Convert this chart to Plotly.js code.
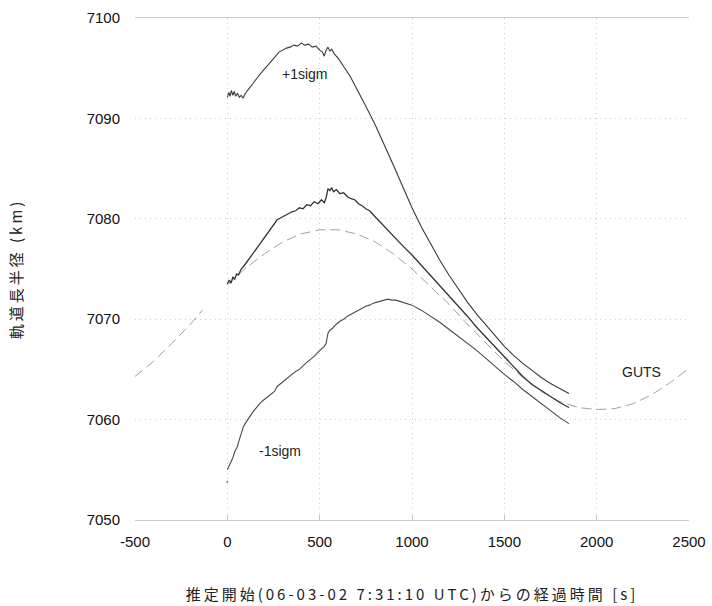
<!DOCTYPE html>
<html>
<head>
<meta charset="utf-8">
<script src="https://cdn.plot.ly/plotly-3.0.1.min.js"></script>
<style>html,body{margin:0;padding:0;background:#fff;}#chart{width:712px;height:606px;}</style>
</head>
<body>
<div id="chart"></div>
<script>
// ---- data ----
const xTicks = [-500, 0, 500, 1000, 1500, 2000, 2500];
const yTicks = [7050, 7060, 7070, 7080, 7090, 7100];

// GUTS reference orbit
const gutsT = [-500, -400, -300, -200, -135, -120, 0, 100, 200, 300, 400, 500, 600, 700, 800, 900, 1000, 1100, 1200, 1300, 1400, 1500, 1600, 1700, 1800, 1900, 2000, 2100, 2200, 2300, 2400, 2500];
const gutsA = [7064.3, 7065.8, 7067.6, 7069.5, 7070.9, null, 7073.4, 7075.1, 7076.5, 7077.7, 7078.5, 7078.9, 7078.9, 7078.5, 7077.7, 7076.5, 7075.0, 7073.3, 7071.5, 7069.5, 7067.6, 7065.8, 7064.2, 7062.8, 7061.8, 7061.2, 7061.0, 7061.1, 7061.6, 7062.5, 7063.7, 7065.1];

// central estimate
const centerT = [0, 10, 20, 30, 40, 50, 60, 75, 90, 110, 130, 150, 170, 190, 210, 230, 250, 270, 290, 310, 330, 350, 370, 390, 410, 430, 450, 470, 490, 510, 525, 535, 545, 555, 565, 575, 590, 610, 630, 650, 670, 690, 710, 730, 750, 770, 790, 810, 830, 850, 900, 950, 1000, 1050, 1100, 1150, 1200, 1250, 1300, 1350, 1400, 1450, 1500, 1550, 1600, 1650, 1700, 1750, 1800, 1850];
const centerA = [7073.5, 7073.9, 7073.6, 7074.2, 7074.0, 7074.5, 7074.4, 7075.0, 7075.3, 7075.8, 7076.4, 7076.9, 7077.4, 7077.8, 7078.3, 7078.8, 7079.3, 7079.9, 7080.1, 7080.3, 7080.5, 7080.7, 7080.8, 7081.1, 7081.0, 7081.4, 7081.3, 7081.7, 7081.5, 7081.9, 7081.6, 7082.1, 7083.0, 7082.8, 7083.1, 7082.7, 7082.9, 7082.5, 7082.6, 7082.2, 7082.0, 7081.9, 7081.5, 7081.3, 7081.0, 7080.8, 7080.4, 7080.0, 7079.6, 7079.2, 7078.2, 7077.3, 7076.4, 7075.4, 7074.4, 7073.3, 7072.3, 7071.3, 7070.3, 7069.2, 7068.2, 7067.2, 7066.2, 7065.2, 7064.3, 7063.5, 7062.9, 7062.3, 7061.7, 7061.2];

// +1 sigma
const plusT = [0, 8, 15, 22, 30, 38, 45, 55, 65, 75, 85, 95, 110, 125, 140, 160, 180, 200, 220, 240, 260, 280, 300, 320, 340, 360, 380, 400, 420, 440, 460, 480, 500, 515, 525, 535, 545, 555, 565, 580, 600, 620, 640, 668, 700, 750, 800, 850, 900, 950, 1000, 1050, 1100, 1150, 1200, 1250, 1300, 1350, 1400, 1450, 1500, 1550, 1600, 1650, 1700, 1750, 1800, 1850];
const plusA = [7092.1, 7092.6, 7092.2, 7092.8, 7092.3, 7092.7, 7092.2, 7092.5, 7092.1, 7092.3, 7092.0, 7092.4, 7092.8, 7093.1, 7093.5, 7094.0, 7094.5, 7094.9, 7095.3, 7095.7, 7096.2, 7096.6, 7096.8, 7097.0, 7097.1, 7097.3, 7097.2, 7097.5, 7097.3, 7097.4, 7097.1, 7097.2, 7096.8, 7096.6, 7096.2, 7096.8, 7097.1, 7096.7, 7096.9, 7096.4, 7096.0, 7095.5, 7094.9, 7094.1, 7093.0, 7091.2, 7089.4, 7087.4, 7085.3, 7083.2, 7081.1, 7079.2, 7077.5, 7075.9, 7074.4, 7073.0, 7071.7, 7070.5, 7069.4, 7068.3, 7067.3, 7066.4, 7065.6, 7064.9, 7064.2, 7063.6, 7063.1, 7062.6];

// -1 sigma
const minusT = [0, 10, 20, 30, 40, 54, 65, 75, 87, 100, 112, 125, 140, 160, 180, 200, 220, 240, 255, 270, 290, 310, 330, 350, 370, 390, 410, 430, 450, 470, 490, 510, 525, 535, 545, 555, 570, 590, 610, 630, 650, 670, 690, 710, 730, 750, 770, 790, 810, 830, 850, 870, 890, 910, 930, 950, 975, 1000, 1050, 1100, 1150, 1200, 1250, 1300, 1350, 1400, 1450, 1500, 1550, 1600, 1650, 1700, 1750, 1800, 1850];
const minusA = [7055.0, 7055.4, 7055.9, 7056.2, 7056.8, 7057.3, 7058.0, 7058.6, 7059.3, 7059.7, 7060.1, 7060.4, 7060.8, 7061.3, 7061.7, 7062.0, 7062.3, 7062.6, 7062.8, 7063.3, 7063.6, 7063.9, 7064.2, 7064.5, 7064.8, 7065.0, 7065.4, 7065.7, 7066.0, 7066.3, 7066.7, 7067.0, 7067.3, 7067.6, 7068.6, 7068.9, 7069.1, 7069.5, 7069.8, 7070.0, 7070.3, 7070.5, 7070.7, 7070.9, 7071.1, 7071.3, 7071.4, 7071.6, 7071.7, 7071.8, 7071.9, 7072.0, 7071.9, 7071.9, 7071.8, 7071.7, 7071.6, 7071.4, 7070.9, 7070.3, 7069.7, 7069.0, 7068.3, 7067.6, 7066.9, 7066.1, 7065.3, 7064.5, 7063.8, 7063.0, 7062.3, 7061.6, 7060.9, 7060.2, 7059.6];

// stray first sample of -1 sigma
const strayT = [0];
const strayA = [7053.8];

const labels = ['+1sigm', '-1sigm', 'GUTS'];
const labelT = [422, 287, 2241];
const labelA = [7094.4, 7056.9, 7064.7];

const xTitle = '推定開始(06-03-02 7:31:10 UTC)からの経過時間 [s]';
const yTitle = '軌道長半径 (km)';

// ---- traces ----
const traces = [
  {x: gutsT, y: gutsA, mode: 'lines', connectgaps: false,
   line: {color: '#a0a0a0', width: 1, dash: '10px,5px'}, hoverinfo: 'skip'},
  {x: plusT, y: plusA, mode: 'lines', line: {color: '#3a3a3a', width: 1.1}},
  {x: centerT, y: centerA, mode: 'lines', line: {color: '#333333', width: 1.3}},
  {x: minusT, y: minusA, mode: 'lines', line: {color: '#4a4a4a', width: 1.1}},
  {x: strayT, y: strayA, mode: 'markers', marker: {color: '#777', size: 2}}
];

const annotations = labels.map((t, i) => ({
  x: labelT[i], y: labelA[i], xref: 'x', yref: 'y', text: t, showarrow: false,
  font: {family: 'Liberation Sans, Arial, sans-serif', size: 14, color: '#222'}
}));

const tickFont = {family: 'Liberation Sans, Arial, sans-serif', size: 15, color: '#111'};
const titleFont = {family: 'Noto Sans CJK JP, sans-serif', size: 15, color: '#222'};

const layout = {
  width: 712, height: 606,
  margin: {l: 135, r: 23, t: 18, b: 86},
  paper_bgcolor: '#fff', plot_bgcolor: '#fff',
  showlegend: false,
  xaxis: {
    range: [-500, 2500], tickmode: 'array', tickvals: xTicks,
    ticktext: xTicks.map(String),
    showgrid: true, gridcolor: '#cccccc', griddash: '1px,4px', gridwidth: 1,
    zeroline: false, showline: true, linecolor: '#cccccc', linewidth: 1, mirror: true,
    ticks: 'inside', ticklen: 5, tickcolor: '#c4c4c4',
    tickfont: tickFont, ticklabelstandoff: 8, automargin: false,
    title: {text: '<span style="letter-spacing:3px">' + xTitle + '</span>', font: titleFont, standoff: 40}
  },
  yaxis: {
    range: [7050, 7100], tickmode: 'array', tickvals: yTicks,
    ticktext: yTicks.map(String),
    showgrid: true, gridcolor: '#cccccc', griddash: '1px,4px', gridwidth: 1,
    zeroline: false, showline: false, ticks: '',
    tickfont: tickFont, ticklabelstandoff: 14, automargin: false,
    title: {text: '<span style="letter-spacing:3px">' + yTitle + '</span>', font: titleFont, standoff: 60}
  },
  annotations: annotations
};

Plotly.newPlot('chart', traces, layout, {staticPlot: true, displayModeBar: false});
</script>
</body>
</html>
